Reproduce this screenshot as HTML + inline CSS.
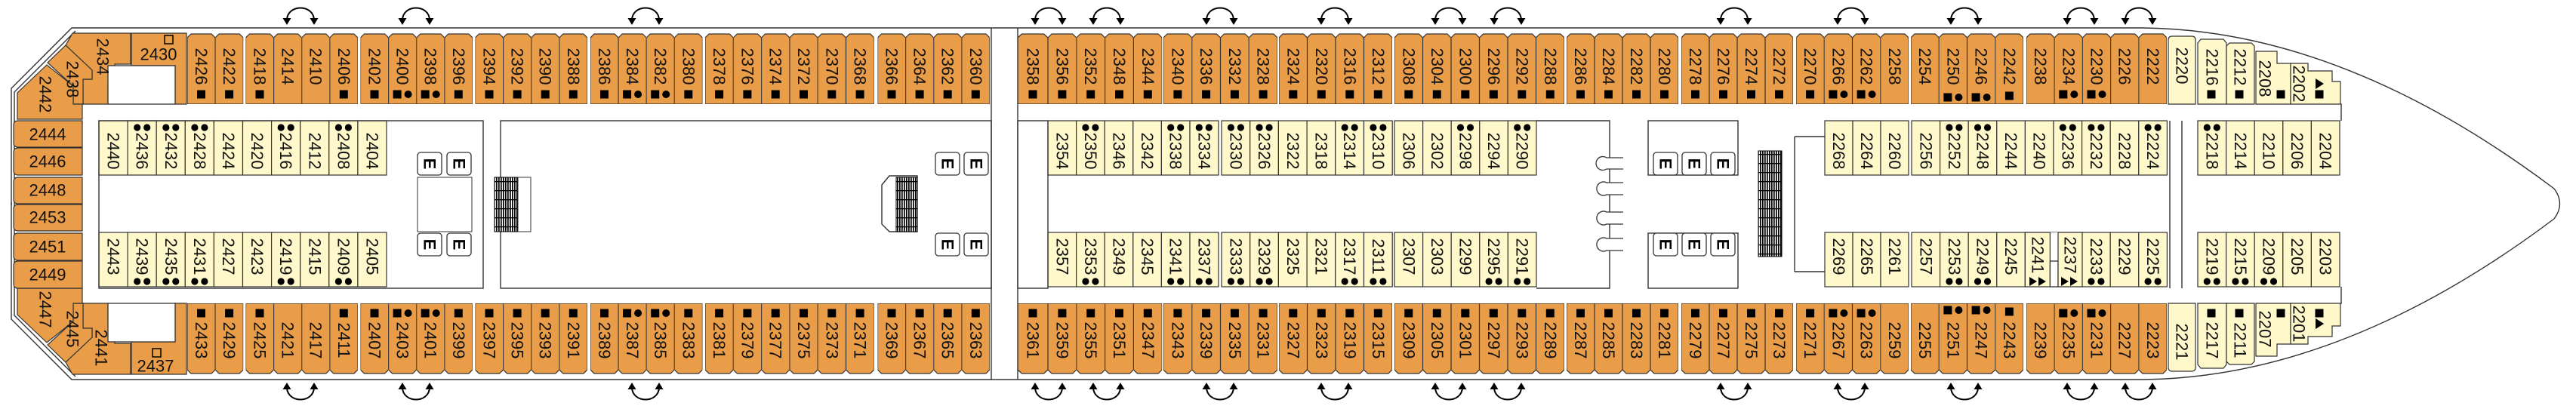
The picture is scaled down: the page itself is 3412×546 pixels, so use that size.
<!DOCTYPE html>
<html><head><meta charset="utf-8">
<style>
html,body{margin:0;padding:0;background:#fff}
svg{display:block}
.t{font-family:"Liberation Sans",sans-serif;font-size:22px;fill:#111;text-anchor:middle;dominant-baseline:central}
.e{font-family:"Liberation Sans",sans-serif;font-size:22px;font-weight:bold;fill:#000;text-anchor:middle;dominant-baseline:central}
.c{fill:#FFF8CA;stroke:#333;stroke-width:1.2}
.o{fill:#EA9D48;stroke:#333;stroke-width:1.2}
.w{fill:#fff;stroke:#333;stroke-width:1.3}
.l{fill:none;stroke:#333;stroke-width:1.4}
</style></head><body>
<svg width="3412" height="546" viewBox="0 0 3412 546" xmlns="http://www.w3.org/2000/svg" xmlns:xlink="http://www.w3.org/1999/xlink">
<defs>
<symbol id="ot" viewBox="0 0 37 94" preserveAspectRatio="none"><path d="M0,94V6L5,1H32L37,6V94Z" fill="#EA9D48" stroke="#333" stroke-width="1.2" vector-effect="non-scaling-stroke"/></symbol>
<g id="sq"><rect x="-5.5" y="-5.5" width="11" height="11"/></g>
<g id="sc"><rect x="-12.5" y="-5.5" width="11" height="11"/><circle cx="7.5" cy="0" r="5"/></g>
<g id="dd"><circle cx="-6.5" cy="0" r="4.6"/><circle cx="6.5" cy="0" r="4.6"/></g>
<g id="ar"><path d="M-18,27 C-18,5 18,5 18,27" fill="none" stroke="#000" stroke-width="2"/><path d="M-23.5,24 L-12.5,24 L-18,33Z M12.5,24 L23.5,24 L18,33Z"/></g>
<pattern id="st" width="3" height="12" patternUnits="userSpaceOnUse"><rect width="3" height="12" fill="#fff"/><rect x="0" width="1.7" height="12" fill="#000"/><rect y="0" width="3" height="1.3" fill="#000"/></pattern>
<g id="E"><rect x="0" y="0" width="32" height="30" rx="4" fill="#fff" stroke="#333" stroke-width="1.3"/></g>

<g id="half">
<!-- hull -->
<path class="l" d="M2840,37 H95 L15,117 V270"/>
<path class="l" d="M100,41 L19,122 V270" stroke-width="1"/>
<!-- corner cabins -->
<polygon class="o" points="96,44 173,44 173,85 152,85 152,112 143,112 143,138 110,138 110,105 122,105 122,93 87,60"/>
<polygon class="o" points="63,83 87,60 122,93 122,105 110,105 110,138 97,138 97,114"/>
<polygon class="o" points="62,86 23,123 23,158 109,158 109,138 97,138 97,114"/>
<polygon class="o" points="174,44 247,44 247,138 232,138 232,87 174,87"/>
<rect class="w" x="143" y="87" width="89" height="51"/>
<!-- orange cabins -->
<use href="#ot" x="248" y="44" width="37.1" height="94"/><use href="#ot" x="285.1" y="44" width="37.1" height="94"/>
<use href="#ot" x="325.5" y="44" width="37.1" height="94"/><use href="#ot" x="362.6" y="44" width="37.1" height="94"/><use href="#ot" x="399.7" y="44" width="37.1" height="94"/><use href="#ot" x="436.8" y="44" width="37.1" height="94"/>
<use href="#ot" x="477.5" y="44" width="37.1" height="94"/><use href="#ot" x="514.6" y="44" width="37.1" height="94"/><use href="#ot" x="551.7" y="44" width="37.1" height="94"/><use href="#ot" x="588.8" y="44" width="37.1" height="94"/>
<use href="#ot" x="629.5" y="44" width="37.1" height="94"/><use href="#ot" x="666.6" y="44" width="37.1" height="94"/><use href="#ot" x="703.7" y="44" width="37.1" height="94"/><use href="#ot" x="740.8" y="44" width="37.1" height="94"/>
<use href="#ot" x="782" y="44" width="37.1" height="94"/><use href="#ot" x="819.1" y="44" width="37.1" height="94"/><use href="#ot" x="856.2" y="44" width="37.1" height="94"/><use href="#ot" x="893.3" y="44" width="37.1" height="94"/>
<use href="#ot" x="934" y="44" width="37.3" height="94"/><use href="#ot" x="971.3" y="44" width="37.3" height="94"/><use href="#ot" x="1008.6" y="44" width="37.3" height="94"/><use href="#ot" x="1045.9" y="44" width="37.3" height="94"/><use href="#ot" x="1083.2" y="44" width="37.3" height="94"/><use href="#ot" x="1120.5" y="44" width="37.3" height="94"/>
<use href="#ot" x="1162.5" y="44" width="37.1" height="94"/><use href="#ot" x="1199.6" y="44" width="37.1" height="94"/><use href="#ot" x="1236.7" y="44" width="37.1" height="94"/><use href="#ot" x="1273.8" y="44" width="37.1" height="94"/>
<use href="#ot" x="1348" y="44" width="40" height="94"/><use href="#ot" x="1388" y="44" width="37.8" height="94"/><use href="#ot" x="1425.8" y="44" width="37.8" height="94"/><use href="#ot" x="1463.6" y="44" width="37.8" height="94"/><use href="#ot" x="1501.4" y="44" width="37.8" height="94"/>
<use href="#ot" x="1541" y="44" width="37.75" height="94"/><use href="#ot" x="1578.75" y="44" width="37.75" height="94"/><use href="#ot" x="1616.5" y="44" width="37.75" height="94"/><use href="#ot" x="1654.25" y="44" width="37.75" height="94"/>
<use href="#ot" x="1694" y="44" width="37.5" height="94"/><use href="#ot" x="1731.5" y="44" width="37.5" height="94"/><use href="#ot" x="1769" y="44" width="37.5" height="94"/><use href="#ot" x="1806.5" y="44" width="37.5" height="94"/>
<use href="#ot" x="1847" y="44" width="37.5" height="94"/><use href="#ot" x="1884.5" y="44" width="37.5" height="94"/><use href="#ot" x="1922" y="44" width="37.5" height="94"/><use href="#ot" x="1959.5" y="44" width="37.5" height="94"/><use href="#ot" x="1997" y="44" width="37.5" height="94"/><use href="#ot" x="2034.5" y="44" width="37.5" height="94"/>
<use href="#ot" x="2075" y="44" width="37" height="94"/><use href="#ot" x="2112" y="44" width="37" height="94"/><use href="#ot" x="2149" y="44" width="37" height="94"/><use href="#ot" x="2186" y="44" width="37" height="94"/>
<use href="#ot" x="2227" y="44" width="37" height="94"/><use href="#ot" x="2264" y="44" width="37" height="94"/><use href="#ot" x="2301" y="44" width="37" height="94"/><use href="#ot" x="2338" y="44" width="37" height="94"/>
<use href="#ot" x="2379" y="44" width="37.25" height="94"/><use href="#ot" x="2416.25" y="44" width="37.25" height="94"/><use href="#ot" x="2453.5" y="44" width="37.25" height="94"/><use href="#ot" x="2490.75" y="44" width="37.25" height="94"/>
<use href="#ot" x="2531" y="44" width="37.25" height="94"/><use href="#ot" x="2568.25" y="44" width="37.25" height="94"/><use href="#ot" x="2605.5" y="44" width="37.25" height="94"/><use href="#ot" x="2642.75" y="44" width="37.25" height="94"/>
<use href="#ot" x="2684" y="44" width="37.2" height="94"/><use href="#ot" x="2721.2" y="44" width="37.2" height="94"/><use href="#ot" x="2758.4" y="44" width="37.2" height="94"/><use href="#ot" x="2795.6" y="44" width="37.2" height="94"/><use href="#ot" x="2832.8" y="44" width="37.2" height="94"/>
<!-- orange icons -->
<g fill="#000">
<use href="#sq" x="266.5" y="125"/><use href="#sq" x="303.6" y="125"/><use href="#sq" x="344" y="125"/><use href="#sq" x="455.3" y="125"/><use href="#sq" x="496" y="125"/><use href="#sq" x="607.3" y="125"/><use href="#sq" x="648" y="125"/><use href="#sq" x="685.1" y="125"/><use href="#sq" x="722.2" y="125"/><use href="#sq" x="759.3" y="125"/><use href="#sq" x="800.5" y="125"/><use href="#sq" x="911.8" y="125"/>
<use href="#sq" x="952.6" y="125"/><use href="#sq" x="989.9" y="125"/><use href="#sq" x="1027.2" y="125"/><use href="#sq" x="1064.5" y="125"/><use href="#sq" x="1101.8" y="125"/><use href="#sq" x="1139.1" y="125"/>
<use href="#sq" x="1181" y="125"/><use href="#sq" x="1218.1" y="125"/><use href="#sq" x="1255.2" y="125"/><use href="#sq" x="1292.3" y="125"/>
<use href="#sq" x="1368" y="125"/><use href="#sq" x="1406.9" y="125"/><use href="#sq" x="1444.7" y="125"/><use href="#sq" x="1482.5" y="125"/><use href="#sq" x="1520.3" y="125"/>
<use href="#sq" x="1559.9" y="125"/><use href="#sq" x="1597.6" y="125"/><use href="#sq" x="1635.4" y="125"/><use href="#sq" x="1673.1" y="125"/>
<use href="#sq" x="1712.8" y="125"/><use href="#sq" x="1750.3" y="125"/><use href="#sq" x="1787.8" y="125"/><use href="#sq" x="1825.3" y="125"/>
<use href="#sq" x="1865.8" y="125"/><use href="#sq" x="1903.3" y="125"/><use href="#sq" x="1940.8" y="125"/><use href="#sq" x="1978.3" y="125"/><use href="#sq" x="2015.8" y="125"/><use href="#sq" x="2053.3" y="125"/>
<use href="#sq" x="2093.5" y="125"/><use href="#sq" x="2130.5" y="125"/><use href="#sq" x="2167.5" y="125"/><use href="#sq" x="2204.5" y="125"/>
<use href="#sq" x="2245.5" y="125"/><use href="#sq" x="2282.5" y="125"/><use href="#sq" x="2319.5" y="125"/><use href="#sq" x="2356.5" y="125"/>
<use href="#sq" x="2397.6" y="125"/><use href="#sq" x="2661.4" y="127"/>
<use href="#sc" x="533.1" y="125"/><use href="#sc" x="570.2" y="125"/><use href="#sc" x="837.6" y="125"/><use href="#sc" x="874.7" y="125"/><use href="#sc" x="2434.9" y="125"/><use href="#sc" x="2472.1" y="125"/><use href="#sc" x="2586.9" y="129"/><use href="#sc" x="2624.1" y="129"/><use href="#sc" x="2739.8" y="125"/><use href="#sc" x="2777" y="125"/>
</g>
<!-- bow cabins -->
<path class="c" d="M2872,138V53Q2872,48 2877,48H2903Q2908,48 2908,53V138Z"/>
<path class="c" d="M2911,138V57L2915,52H2945L2949,57V138Z"/>
<path class="c" d="M2949,138V61L2953,57H2982L2986,61V138Z"/>
<path class="c" d="M2988,138V68H3016V84H3034V138Z"/>
<path class="c" d="M3034,138V84H3057V94H3089V108H3100V138Z"/>
<g fill="#000"><use href="#sq" x="2929" y="125"/><use href="#sq" x="2966" y="125"/><use href="#sq" x="3021" y="125"/><use href="#sq" x="3072" y="125"/><path d="M3067,104 L3078,111 L3067,118Z"/></g>
<path class="l" d="M3100,138 H3101 V160"/>
<!-- cream top -->
<g class="c">
<rect x="131" y="160" width="38.1" height="72"/><rect x="169.1" y="160" width="38.1" height="72"/><rect x="207.2" y="160" width="38.1" height="72"/><rect x="245.3" y="160" width="38.1" height="72"/><rect x="283.4" y="160" width="38.1" height="72"/><rect x="321.5" y="160" width="38.1" height="72"/><rect x="359.6" y="160" width="38.1" height="72"/><rect x="397.7" y="160" width="38.1" height="72"/><rect x="435.8" y="160" width="38.1" height="72"/><rect x="473.9" y="160" width="38.1" height="72"/>
<rect x="1388" y="160" width="37.6" height="72"/><rect x="1425.6" y="160" width="37.6" height="72"/><rect x="1463.2" y="160" width="37.6" height="72"/><rect x="1500.8" y="160" width="37.6" height="72"/><rect x="1538.4" y="160" width="37.6" height="72"/><rect x="1576" y="160" width="38" height="72"/>
<rect x="1618" y="160" width="37.7" height="72"/><rect x="1655.7" y="160" width="37.7" height="72"/><rect x="1693.4" y="160" width="37.7" height="72"/><rect x="1731.1" y="160" width="37.7" height="72"/><rect x="1768.8" y="160" width="37.7" height="72"/><rect x="1806.5" y="160" width="37.7" height="72"/>
<rect x="1847" y="160" width="37.6" height="72"/><rect x="1884.6" y="160" width="37.6" height="72"/><rect x="1922.2" y="160" width="37.6" height="72"/><rect x="1959.8" y="160" width="37.6" height="72"/><rect x="1997.4" y="160" width="37.6" height="72"/>
<rect x="2417" y="160" width="37" height="72"/><rect x="2454" y="160" width="37" height="72"/><rect x="2491" y="160" width="37" height="72"/>
<rect x="2532" y="160" width="37.6" height="72"/><rect x="2569.6" y="160" width="37.6" height="72"/><rect x="2607.2" y="160" width="37.6" height="72"/><rect x="2644.8" y="160" width="37.6" height="72"/><rect x="2682.4" y="160" width="37.6" height="72"/><rect x="2720" y="160" width="37.6" height="72"/><rect x="2757.6" y="160" width="37.6" height="72"/><rect x="2795.2" y="160" width="37.6" height="72"/><rect x="2832.8" y="160" width="37.6" height="72"/>
<rect x="2911" y="160" width="37.6" height="72"/><rect x="2948.6" y="160" width="37.6" height="72"/><rect x="2986.2" y="160" width="37.6" height="72"/><rect x="3023.8" y="160" width="37.6" height="72"/><rect x="3061.4" y="160" width="37.6" height="72"/>
</g>
<!-- arrows -->
<g fill="#000">
<use href="#ar" x="398" y="0"/><use href="#ar" x="551" y="0"/><use href="#ar" x="855" y="0"/><use href="#ar" x="1389" y="0"/><use href="#ar" x="1466" y="0"/><use href="#ar" x="1616" y="0"/><use href="#ar" x="1768" y="0"/><use href="#ar" x="1919" y="0"/><use href="#ar" x="1997" y="0"/><use href="#ar" x="2297" y="0"/><use href="#ar" x="2452" y="0"/><use href="#ar" x="2602" y="0"/><use href="#ar" x="2756" y="0"/><use href="#ar" x="2833" y="0"/>
</g>
</g>
</defs>

<use href="#half"/>
<use href="#half" transform="matrix(1 0 0 -1 0 540)"/>

<!-- bow hull -->
<path class="l" d="M2840,37 C3060,40 3250,150 3383,250 Q3398,270 3383,290 C3250,390 3060,500 2840,503"/>
<path class="l" d="M15,268V272"/>

<!-- stern column -->
<g class="o">
<path d="M109,160H24Q18,160 18,166V189Q18,195 24,195H109Z"/>
<path d="M109,196H24Q18,196 18,202V226Q18,232 24,232H109Z"/>
<path d="M109,235H24Q18,235 18,241V264Q18,270 24,270H109Z"/>
<path d="M109,271H24Q18,271 18,277V300Q18,306 24,306H109Z"/>
<path d="M109,309H24Q18,309 18,315V339Q18,345 24,345H109Z"/>
<path d="M109,346H24Q18,346 18,352V376Q18,382 24,382H109Z"/>
</g>

<!-- corridor / room outlines -->
<g class="l">
<rect x="131" y="160" width="509" height="222"/>
<rect x="663" y="160" width="650" height="222"/>
<path d="M1313,37V503 M1348,37V503"/>
<rect x="1348" y="160" width="40" height="222"/>
<path d="M2035,160H2132V382H2035"/>
<rect x="2183" y="160" width="119" height="72"/>
<rect x="2183" y="309" width="119" height="73"/>
<path d="M2377,181V360 M2377,181H2417 M2377,360H2417"/>
<path d="M2874,160V382 M2890,160V382"/>
<path d="M553,235H625V307H553Z" stroke-width="1"/>
<path d="M1168,245L1178,233H1215V307H1178L1168,297Z"/>
</g>
<!-- toilets -->
<g class="w">
<path d="M2150,209H2128A9,9 0 1 0 2128,224H2150"/>
<path d="M2150,242H2128A9,9 0 1 0 2128,258H2150"/>
<path d="M2150,281H2128A9,9 0 1 0 2128,297H2150"/>
<path d="M2150,316H2128A9,9 0 1 0 2128,332H2150"/>
</g>
<!-- stairs -->
<rect x="655" y="235" width="31" height="72" fill="url(#st)" stroke="#000"/>
<rect x="1187" y="235" width="28" height="72" fill="url(#st)" stroke="#000"/>
<rect x="2329" y="200" width="31" height="140" fill="url(#st)" stroke="#000"/>
<rect x="686" y="235" width="17" height="72" fill="none" stroke="#333"/>

<!-- elevators -->
<use href="#E" x="553" y="202"/><use href="#E" x="592" y="202"/><use href="#E" x="553" y="309"/><use href="#E" x="592" y="309"/>
<use href="#E" x="1239" y="202"/><use href="#E" x="1277" y="202"/><use href="#E" x="1239" y="309"/><use href="#E" x="1277" y="309"/>
<use href="#E" x="2190" y="202"/><use href="#E" x="2228" y="202"/><use href="#E" x="2266" y="202"/><use href="#E" x="2190" y="309"/><use href="#E" x="2228" y="309"/><use href="#E" x="2266" y="309"/>
<g class="e">
<text transform="translate(569 217) rotate(90)">E</text><text transform="translate(608 217) rotate(90)">E</text><text transform="translate(569 324) rotate(90)">E</text><text transform="translate(608 324) rotate(90)">E</text>
<text transform="translate(1255 217) rotate(90)">E</text><text transform="translate(1293 217) rotate(90)">E</text><text transform="translate(1255 324) rotate(90)">E</text><text transform="translate(1293 324) rotate(90)">E</text>
<text transform="translate(2206 217) rotate(90)">E</text><text transform="translate(2244 217) rotate(90)">E</text><text transform="translate(2282 217) rotate(90)">E</text><text transform="translate(2206 324) rotate(90)">E</text><text transform="translate(2244 324) rotate(90)">E</text><text transform="translate(2282 324) rotate(90)">E</text>
</g>

<!-- bottom 2241/2237 override -->
<rect x="2682.4" y="308" width="76" height="72" fill="#fff"/>
<rect class="c" x="2682.4" y="308" width="33" height="72"/>
<rect class="w" x="2715.4" y="346" width="10.6" height="34"/>
<rect class="c" x="2726" y="308" width="32" height="72"/>

<!-- cream icons -->
<g fill="#000">
<use href="#dd" x="188.2" y="169"/><use href="#dd" x="226.3" y="169"/><use href="#dd" x="264.4" y="169"/><use href="#dd" x="378.7" y="169"/><use href="#dd" x="454.9" y="169"/>
<use href="#dd" x="188.2" y="373"/><use href="#dd" x="226.3" y="373"/><use href="#dd" x="264.4" y="373"/><use href="#dd" x="378.7" y="373"/><use href="#dd" x="454.9" y="373"/>
<use href="#dd" x="1444.4" y="169"/><use href="#dd" x="1557.2" y="169"/><use href="#dd" x="1594.8" y="169"/><use href="#dd" x="1636.9" y="169"/><use href="#dd" x="1674.6" y="169"/><use href="#dd" x="1787.7" y="169"/><use href="#dd" x="1825.4" y="169"/><use href="#dd" x="1941" y="169"/><use href="#dd" x="2016.2" y="169"/>
<use href="#dd" x="1444.4" y="373"/><use href="#dd" x="1557.2" y="373"/><use href="#dd" x="1594.8" y="373"/><use href="#dd" x="1636.9" y="373"/><use href="#dd" x="1674.6" y="373"/><use href="#dd" x="1787.7" y="373"/><use href="#dd" x="1825.4" y="373"/><use href="#dd" x="1978.6" y="373"/><use href="#dd" x="2016.2" y="373"/>
<use href="#dd" x="2588.4" y="169"/><use href="#dd" x="2626" y="169"/><use href="#dd" x="2738.8" y="169"/><use href="#dd" x="2776.4" y="169"/><use href="#dd" x="2851.6" y="169"/><use href="#dd" x="2929.8" y="169"/>
<use href="#dd" x="2588.4" y="373"/><use href="#dd" x="2626" y="373"/><use href="#dd" x="2776.4" y="373"/><use href="#dd" x="2851.6" y="373"/><use href="#dd" x="2929.8" y="373"/><use href="#dd" x="2967.4" y="373"/><use href="#dd" x="3005" y="373"/>
<path d="M2688,367 L2698,373 L2688,379Z M2700,367 L2710,373 L2700,379Z M2730,367 L2740,373 L2730,379Z M2742,367 L2752,373 L2742,379Z"/>
<path d="M3067,422 L3078,429 L3067,436Z"/>
</g>
<rect x="218" y="47" width="11" height="11" fill="none" stroke="#000" stroke-width="1.5"/>
<rect x="202" y="462" width="11" height="11" fill="none" stroke="#000" stroke-width="1.5"/>

<!-- labels -->
<g class="t">
<text x="63" y="178">2444</text><text x="63" y="214">2446</text><text x="63" y="252">2448</text><text x="63" y="288">2453</text><text x="63" y="327">2451</text><text x="63" y="364">2449</text>
<text x="210" y="72">2430</text><text x="206" y="485">2437</text>
<text transform="translate(136 75) rotate(90)">2434</text><text transform="translate(96 105) rotate(90)">2438</text><text transform="translate(60 125) rotate(90)">2442</text>
<text transform="translate(134 461) rotate(90)">2441</text><text transform="translate(96 436) rotate(90)">2445</text><text transform="translate(60 410) rotate(90)">2447</text>

<text transform="translate(266.5 88) rotate(90)">2426</text><text transform="translate(303.6 88) rotate(90)">2422</text>
<text transform="translate(344 88) rotate(90)">2418</text><text transform="translate(381.1 88) rotate(90)">2414</text><text transform="translate(418.2 88) rotate(90)">2410</text><text transform="translate(455.3 88) rotate(90)">2406</text>
<text transform="translate(496 88) rotate(90)">2402</text><text transform="translate(533.1 88) rotate(90)">2400</text><text transform="translate(570.2 88) rotate(90)">2398</text><text transform="translate(607.3 88) rotate(90)">2396</text>
<text transform="translate(648 88) rotate(90)">2394</text><text transform="translate(685.1 88) rotate(90)">2392</text><text transform="translate(722.2 88) rotate(90)">2390</text><text transform="translate(759.3 88) rotate(90)">2388</text>
<text transform="translate(800.5 88) rotate(90)">2386</text><text transform="translate(837.6 88) rotate(90)">2384</text><text transform="translate(874.7 88) rotate(90)">2382</text><text transform="translate(911.8 88) rotate(90)">2380</text>
<text transform="translate(952.6 88) rotate(90)">2378</text><text transform="translate(989.9 88) rotate(90)">2376</text><text transform="translate(1027.2 88) rotate(90)">2374</text><text transform="translate(1064.5 88) rotate(90)">2372</text><text transform="translate(1101.8 88) rotate(90)">2370</text><text transform="translate(1139.1 88) rotate(90)">2368</text>
<text transform="translate(1181 88) rotate(90)">2366</text><text transform="translate(1218.1 88) rotate(90)">2364</text><text transform="translate(1255.2 88) rotate(90)">2362</text><text transform="translate(1292.3 88) rotate(90)">2360</text>
<text transform="translate(1368 88) rotate(90)">2358</text><text transform="translate(1406.9 88) rotate(90)">2356</text><text transform="translate(1444.7 88) rotate(90)">2352</text><text transform="translate(1482.5 88) rotate(90)">2348</text><text transform="translate(1520.3 88) rotate(90)">2344</text>
<text transform="translate(1559.9 88) rotate(90)">2340</text><text transform="translate(1597.6 88) rotate(90)">2336</text><text transform="translate(1635.4 88) rotate(90)">2332</text><text transform="translate(1673.1 88) rotate(90)">2328</text>
<text transform="translate(1712.8 88) rotate(90)">2324</text><text transform="translate(1750.3 88) rotate(90)">2320</text><text transform="translate(1787.8 88) rotate(90)">2316</text><text transform="translate(1825.3 88) rotate(90)">2312</text>
<text transform="translate(1865.8 88) rotate(90)">2308</text><text transform="translate(1903.3 88) rotate(90)">2304</text><text transform="translate(1940.8 88) rotate(90)">2300</text><text transform="translate(1978.3 88) rotate(90)">2296</text><text transform="translate(2015.8 88) rotate(90)">2292</text><text transform="translate(2053.3 88) rotate(90)">2288</text>
<text transform="translate(2093.5 88) rotate(90)">2286</text><text transform="translate(2130.5 88) rotate(90)">2284</text><text transform="translate(2167.5 88) rotate(90)">2282</text><text transform="translate(2204.5 88) rotate(90)">2280</text>
<text transform="translate(2245.5 88) rotate(90)">2278</text><text transform="translate(2282.5 88) rotate(90)">2276</text><text transform="translate(2319.5 88) rotate(90)">2274</text><text transform="translate(2356.5 88) rotate(90)">2272</text>
<text transform="translate(2397.6 88) rotate(90)">2270</text><text transform="translate(2434.9 88) rotate(90)">2266</text><text transform="translate(2472.1 88) rotate(90)">2262</text><text transform="translate(2509.4 88) rotate(90)">2258</text>
<text transform="translate(2549.6 88) rotate(90)">2254</text><text transform="translate(2586.9 88) rotate(90)">2250</text><text transform="translate(2624.1 88) rotate(90)">2246</text><text transform="translate(2661.4 88) rotate(90)">2242</text>
<text transform="translate(2702.6 88) rotate(90)">2238</text><text transform="translate(2739.8 88) rotate(90)">2234</text><text transform="translate(2777 88) rotate(90)">2230</text><text transform="translate(2814.2 88) rotate(90)">2226</text><text transform="translate(2851.4 88) rotate(90)">2222</text>
<text transform="translate(2890 87) rotate(90)">2220</text><text transform="translate(2930 89) rotate(90)">2216</text><text transform="translate(2967 89) rotate(90)">2212</text><text transform="translate(3000 104) rotate(90)">2208</text><text transform="translate(3045 111) rotate(90)">2202</text>

<text transform="translate(266.5 451) rotate(90)">2433</text><text transform="translate(303.6 451) rotate(90)">2429</text>
<text transform="translate(344 451) rotate(90)">2425</text><text transform="translate(381.1 451) rotate(90)">2421</text><text transform="translate(418.2 451) rotate(90)">2417</text><text transform="translate(455.3 451) rotate(90)">2411</text>
<text transform="translate(496 451) rotate(90)">2407</text><text transform="translate(533.1 451) rotate(90)">2403</text><text transform="translate(570.2 451) rotate(90)">2401</text><text transform="translate(607.3 451) rotate(90)">2399</text>
<text transform="translate(648 451) rotate(90)">2397</text><text transform="translate(685.1 451) rotate(90)">2395</text><text transform="translate(722.2 451) rotate(90)">2393</text><text transform="translate(759.3 451) rotate(90)">2391</text>
<text transform="translate(800.5 451) rotate(90)">2389</text><text transform="translate(837.6 451) rotate(90)">2387</text><text transform="translate(874.7 451) rotate(90)">2385</text><text transform="translate(911.8 451) rotate(90)">2383</text>
<text transform="translate(952.6 451) rotate(90)">2381</text><text transform="translate(989.9 451) rotate(90)">2379</text><text transform="translate(1027.2 451) rotate(90)">2377</text><text transform="translate(1064.5 451) rotate(90)">2375</text><text transform="translate(1101.8 451) rotate(90)">2373</text><text transform="translate(1139.1 451) rotate(90)">2371</text>
<text transform="translate(1181 451) rotate(90)">2369</text><text transform="translate(1218.1 451) rotate(90)">2367</text><text transform="translate(1255.2 451) rotate(90)">2365</text><text transform="translate(1292.3 451) rotate(90)">2363</text>
<text transform="translate(1368 451) rotate(90)">2361</text><text transform="translate(1406.9 451) rotate(90)">2359</text><text transform="translate(1444.7 451) rotate(90)">2355</text><text transform="translate(1482.5 451) rotate(90)">2351</text><text transform="translate(1520.3 451) rotate(90)">2347</text>
<text transform="translate(1559.9 451) rotate(90)">2343</text><text transform="translate(1597.6 451) rotate(90)">2339</text><text transform="translate(1635.4 451) rotate(90)">2335</text><text transform="translate(1673.1 451) rotate(90)">2331</text>
<text transform="translate(1712.8 451) rotate(90)">2327</text><text transform="translate(1750.3 451) rotate(90)">2323</text><text transform="translate(1787.8 451) rotate(90)">2319</text><text transform="translate(1825.3 451) rotate(90)">2315</text>
<text transform="translate(1865.8 451) rotate(90)">2309</text><text transform="translate(1903.3 451) rotate(90)">2305</text><text transform="translate(1940.8 451) rotate(90)">2301</text><text transform="translate(1978.3 451) rotate(90)">2297</text><text transform="translate(2015.8 451) rotate(90)">2293</text><text transform="translate(2053.3 451) rotate(90)">2289</text>
<text transform="translate(2093.5 451) rotate(90)">2287</text><text transform="translate(2130.5 451) rotate(90)">2285</text><text transform="translate(2167.5 451) rotate(90)">2283</text><text transform="translate(2204.5 451) rotate(90)">2281</text>
<text transform="translate(2245.5 451) rotate(90)">2279</text><text transform="translate(2282.5 451) rotate(90)">2277</text><text transform="translate(2319.5 451) rotate(90)">2275</text><text transform="translate(2356.5 451) rotate(90)">2273</text>
<text transform="translate(2397.6 451) rotate(90)">2271</text><text transform="translate(2434.9 451) rotate(90)">2267</text><text transform="translate(2472.1 451) rotate(90)">2263</text><text transform="translate(2509.4 451) rotate(90)">2259</text>
<text transform="translate(2549.6 451) rotate(90)">2255</text><text transform="translate(2586.9 451) rotate(90)">2251</text><text transform="translate(2624.1 451) rotate(90)">2247</text><text transform="translate(2661.4 451) rotate(90)">2243</text>
<text transform="translate(2702.6 451) rotate(90)">2239</text><text transform="translate(2739.8 451) rotate(90)">2235</text><text transform="translate(2777 451) rotate(90)">2231</text><text transform="translate(2814.2 451) rotate(90)">2227</text><text transform="translate(2851.4 451) rotate(90)">2223</text>
<text transform="translate(2890 453) rotate(90)">2221</text><text transform="translate(2930 451) rotate(90)">2217</text><text transform="translate(2967 451) rotate(90)">2211</text><text transform="translate(3000 436) rotate(90)">2207</text><text transform="translate(3045 429) rotate(90)">2201</text>

<text transform="translate(150 200) rotate(90)">2440</text><text transform="translate(188.2 200) rotate(90)">2436</text><text transform="translate(226.3 200) rotate(90)">2432</text><text transform="translate(264.4 200) rotate(90)">2428</text><text transform="translate(302.5 200) rotate(90)">2424</text><text transform="translate(340.6 200) rotate(90)">2420</text><text transform="translate(378.7 200) rotate(90)">2416</text><text transform="translate(416.8 200) rotate(90)">2412</text><text transform="translate(454.9 200) rotate(90)">2408</text><text transform="translate(493 200) rotate(90)">2404</text>
<text transform="translate(150 340) rotate(90)">2443</text><text transform="translate(188.2 340) rotate(90)">2439</text><text transform="translate(226.3 340) rotate(90)">2435</text><text transform="translate(264.4 340) rotate(90)">2431</text><text transform="translate(302.5 340) rotate(90)">2427</text><text transform="translate(340.6 340) rotate(90)">2423</text><text transform="translate(378.7 340) rotate(90)">2419</text><text transform="translate(416.8 340) rotate(90)">2415</text><text transform="translate(454.9 340) rotate(90)">2409</text><text transform="translate(493 340) rotate(90)">2405</text>

<text transform="translate(1406.8 200) rotate(90)">2354</text><text transform="translate(1444.4 200) rotate(90)">2350</text><text transform="translate(1482 200) rotate(90)">2346</text><text transform="translate(1519.6 200) rotate(90)">2342</text><text transform="translate(1557.2 200) rotate(90)">2338</text><text transform="translate(1594.8 200) rotate(90)">2334</text>
<text transform="translate(1636.9 200) rotate(90)">2330</text><text transform="translate(1674.6 200) rotate(90)">2326</text><text transform="translate(1712.3 200) rotate(90)">2322</text><text transform="translate(1750 200) rotate(90)">2318</text><text transform="translate(1787.7 200) rotate(90)">2314</text><text transform="translate(1825.4 200) rotate(90)">2310</text>
<text transform="translate(1865.8 200) rotate(90)">2306</text><text transform="translate(1903.4 200) rotate(90)">2302</text><text transform="translate(1941 200) rotate(90)">2298</text><text transform="translate(1978.6 200) rotate(90)">2294</text><text transform="translate(2016.2 200) rotate(90)">2290</text>
<text transform="translate(1406.8 340) rotate(90)">2357</text><text transform="translate(1444.4 340) rotate(90)">2353</text><text transform="translate(1482 340) rotate(90)">2349</text><text transform="translate(1519.6 340) rotate(90)">2345</text><text transform="translate(1557.2 340) rotate(90)">2341</text><text transform="translate(1594.8 340) rotate(90)">2337</text>
<text transform="translate(1636.9 340) rotate(90)">2333</text><text transform="translate(1674.6 340) rotate(90)">2329</text><text transform="translate(1712.3 340) rotate(90)">2325</text><text transform="translate(1750 340) rotate(90)">2321</text><text transform="translate(1787.7 340) rotate(90)">2317</text><text transform="translate(1825.4 340) rotate(90)">2311</text>
<text transform="translate(1865.8 340) rotate(90)">2307</text><text transform="translate(1903.4 340) rotate(90)">2303</text><text transform="translate(1941 340) rotate(90)">2299</text><text transform="translate(1978.6 340) rotate(90)">2295</text><text transform="translate(2016.2 340) rotate(90)">2291</text>

<text transform="translate(2435.5 200) rotate(90)">2268</text><text transform="translate(2472.5 200) rotate(90)">2264</text><text transform="translate(2509.5 200) rotate(90)">2260</text>
<text transform="translate(2550.8 200) rotate(90)">2256</text><text transform="translate(2588.4 200) rotate(90)">2252</text><text transform="translate(2626 200) rotate(90)">2248</text><text transform="translate(2663.6 200) rotate(90)">2244</text><text transform="translate(2701.2 200) rotate(90)">2240</text><text transform="translate(2738.8 200) rotate(90)">2236</text><text transform="translate(2776.4 200) rotate(90)">2232</text><text transform="translate(2814 200) rotate(90)">2228</text><text transform="translate(2851.6 200) rotate(90)">2224</text>
<text transform="translate(2929.8 200) rotate(90)">2218</text><text transform="translate(2967.4 200) rotate(90)">2214</text><text transform="translate(3005 200) rotate(90)">2210</text><text transform="translate(3042.6 200) rotate(90)">2206</text><text transform="translate(3080.2 200) rotate(90)">2204</text>
<text transform="translate(2435.5 340) rotate(90)">2269</text><text transform="translate(2472.5 340) rotate(90)">2265</text><text transform="translate(2509.5 340) rotate(90)">2261</text>
<text transform="translate(2550.8 340) rotate(90)">2257</text><text transform="translate(2588.4 340) rotate(90)">2253</text><text transform="translate(2626 340) rotate(90)">2249</text><text transform="translate(2663.6 340) rotate(90)">2245</text><text transform="translate(2699 338) rotate(90)">2241</text><text transform="translate(2742 338) rotate(90)">2237</text><text transform="translate(2776.4 340) rotate(90)">2233</text><text transform="translate(2814 340) rotate(90)">2229</text><text transform="translate(2851.6 340) rotate(90)">2225</text>
<text transform="translate(2929.8 340) rotate(90)">2219</text><text transform="translate(2967.4 340) rotate(90)">2215</text><text transform="translate(3005 340) rotate(90)">2209</text><text transform="translate(3042.6 340) rotate(90)">2205</text><text transform="translate(3080.2 340) rotate(90)">2203</text>
</g>
</svg>
</body></html>
